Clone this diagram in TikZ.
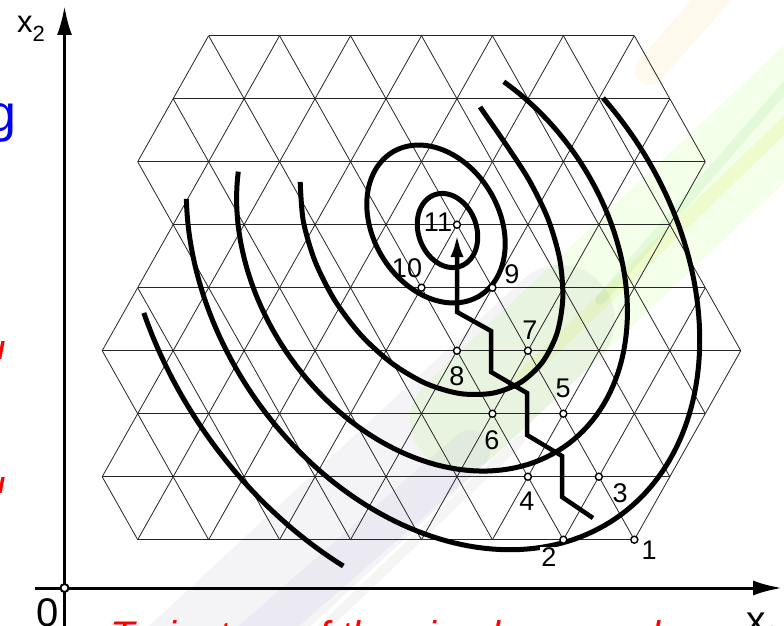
\documentclass[tikz,border=0pt]{standalone}
\usepackage{fontspec}
\setmainfont{Liberation Sans}
\usetikzlibrary{arrows.meta}
\newcommand\lat[2]{(102.2+35.475*#1, 539.7-63*#2)}
\begin{document}
\begin{tikzpicture}[x=1pt,y=-1pt,
  gridline/.style={line width=0.8pt, black!85},
  contour/.style={line width=5pt, line join=round},
  axisline/.style={line width=3pt},
  trail/.style={line width=4.5pt, line join=miter},
  pt/.style={circle, draw, line width=1.4pt, fill=white, inner sep=0pt, minimum size=7pt},
  lab/.style={font=\fontsize{27}{29}\selectfont, inner sep=0pt},
  swoosh/.style={line cap=round},
  redtext/.style={text=red, font=\itshape\fontsize{40}{40}\selectfont, inner sep=0pt},
]
\useasboundingbox (0,0) rectangle (784,626);
\fill[white] (0,0) rectangle (784,626);
\begin{scope}
\clip (0,0) rectangle (784,626);
% faint background swoosh
\draw[swoosh, line width=110pt, blue!20!gray, opacity=0.07] (150,700) -- (560,320);
\draw[swoosh, line width=40pt, violet!30!blue!60!gray, opacity=0.05] (230,660) -- (470,450);
\draw[swoosh, line width=10pt, gray, opacity=0.08] (300,650) -- (520,440);
\draw[swoosh, line width=100pt, green!50!yellow, opacity=0.09] (460,420) -- (820,80);
\draw[swoosh, line width=14pt, yellow!80!green, opacity=0.12] (520,380) -- (800,110);
\draw[swoosh, line width=10pt, green!60!black, opacity=0.06] (600,300) -- (800,70);
\draw[swoosh, line width=30pt, orange!60!yellow, opacity=0.07] (650,70) -- (720,-10);
% cut-off slide texts
\node[text=blue, anchor=base east, inner sep=0pt] (tg) at (17,131) {\fontsize{52}{52}\selectfont g};
\begin{scope}
\clip (0,341) rectangle (4,358) (0,477) rectangle (4,492);
\node[redtext, anchor=base east] (tr1) at (5,370) {l};
\node[redtext, anchor=base east] (tr2) at (5,506) {l};
\end{scope}
\node[redtext, anchor=base west] (tbot) at (110,649) {Trajectory of the simplex search};
% axis labels
\node[anchor=base west, inner sep=0pt] (l0) at (36,626) {\fontsize{40}{40}\selectfont 0};
\node[anchor=base west, inner sep=0pt] (lx1) at (746,633) {\fontsize{39}{39}\selectfont x\raisebox{-8pt}{\fontsize{22}{22}\selectfont 1}};
\end{scope}

% grid: horizontal lines
\foreach \r/\ml/\mr in {0/1/15,1/0/16,2/1/17,3/0/18,4/1/17,5/2/16,6/1/17,7/2/16,8/3/15}{
  \draw[gridline] \lat{\ml}{\r} -- \lat{\mr}{\r};
}
% grid: diagonal zigzags between rows
\foreach \r/\ms/\me in {0/0/16,1/0/17,2/0/18,3/0/18,4/1/17,5/1/17,6/1/17,7/2/16}{
  \pgfmathtruncatemacro\mend{\me-1}
  \foreach \m in {\ms,...,\mend}{
    \pgfmathtruncatemacro\prty{mod(\m+\r,2)}
    \pgfmathtruncatemacro\mn{\m+1}
    \ifnum\prty=1
      \pgfmathtruncatemacro\ra{\r}\pgfmathtruncatemacro\rb{\r+1}
    \else
      \pgfmathtruncatemacro\ra{\r+1}\pgfmathtruncatemacro\rb{\r}
    \fi
    \draw[gridline] \lat{\m}{\ra} -- \lat{\mn}{\rb};
  }
}

% axes
\coordinate (O) at (64.5,588);
\coordinate (ytop) at (64.5,6);
\coordinate (ybot) at (64.5,626);
\coordinate (xleft) at (35,588);
\coordinate (xright) at (782,588);
\draw[axisline, -{Latex[length=29pt,width=15pt]}] (ybot) -- (ytop);
\draw[axisline, -{Latex[length=29pt,width=15pt]}] (xleft) -- (xright);
\node[circle, draw, line width=2pt, fill=white, inner sep=0pt, minimum size=8pt] (orig) at (O) {};
\node[anchor=base west, inner sep=0pt] (lx2) at (17,33) {\fontsize{31}{31}\selectfont x\raisebox{-9pt}{\fontsize{22}{22}\selectfont 2}};

% contours (tilted ellipses / arcs)
\draw[contour] plot[domain=0:360, samples=90] ({447.5+13*cos(\x)-27.3*sin(\x)}, {230.5+35.7*cos(\x)+9.9*sin(\x)}) -- cycle;
\draw[contour] plot[domain=0:360, samples=120] ({436+43.3*cos(\x)-54*sin(\x)}, {224+72*cos(\x)+32.4*sin(\x)}) -- cycle;
\draw[contour] plot[smooth] coordinates {(300.2,181.9) (303.3,221.1) (315.1,261.4) (334.8,300.4) (361.1,335.2) (392.3,363.6) (426,383.5) (460.2,393.6) (492.5,393.2) (520.5,382.5) (542.5,362) (557,333.2) (562.8,298.1) (559.7,259) (547.9,218.6) (529,180) (507,146) (480,107)};
\draw[contour] plot[domain=-116:140, samples=120] ({432+131.9*cos(\x)-144.2*sin(\x)}, {255+192*cos(\x)+99.1*sin(\x)});
\draw[contour] plot[domain=-99:131, samples=140] ({443+173.2*cos(\x)-189.5*sin(\x)}, {266+252.1*cos(\x)+130.2*sin(\x)});
\draw[contour] plot[domain=60:110, samples=50] ({440+216.2*cos(\x)-236.5*sin(\x)}, {268+314.8*cos(\x)+162.4*sin(\x)});

% search trajectory
\coordinate (t0) at (593,518);
\coordinate (t1) at (562,497);
\coordinate (t2) at (562,456);
\coordinate (t3) at (527,435);
\coordinate (t4) at (527,393);
\coordinate (t5) at (491,372);
\coordinate (t6) at (491,331);
\coordinate (t7) at (457,312);
\coordinate (t8) at (457,234);
\draw[trail, -{Latex[length=23pt,width=13pt]}] (t0) -- (t1) -- (t2) -- (t3) -- (t4) -- (t5) -- (t6) -- (t7) -- (t8);

% points
\node[pt] (p1) at \lat{15}{0} {};
\node[pt] (p2) at \lat{13}{0} {};
\node[pt] (p3) at \lat{14}{1} {};
\node[pt] (p4) at \lat{12}{1} {};
\node[pt] (p5) at \lat{13}{2} {};
\node[pt] (p6) at \lat{11}{2} {};
\node[pt] (p7) at \lat{12}{3} {};
\node[pt] (p8) at \lat{10}{3} {};
\node[pt] (p9) at \lat{11}{4} {};
\node[pt] (p10) at \lat{9}{4} {};
\node[pt] (p11) at \lat{10}{5} {};

% labels
\node[lab] (l1) at (649,550) {1};
\node[lab, fill=white, inner sep=1pt] (l2) at (549,557) {2};
\node[lab] (l3) at (620,493) {3};
\node[lab] (l4) at (527,501) {4};
\node[lab] (l5) at (563,388) {5};
\node[lab] (l6) at (492,440) {6};
\node[lab] (l7) at (530,330) {7};
\node[lab] (l8) at (457,376) {8};
\node[lab] (l9) at (512,274) {9};
\node[lab] (l10) at (407,268) {10};
\node[lab] (l11) at (438,222) {11};
\end{tikzpicture}
\end{document}
